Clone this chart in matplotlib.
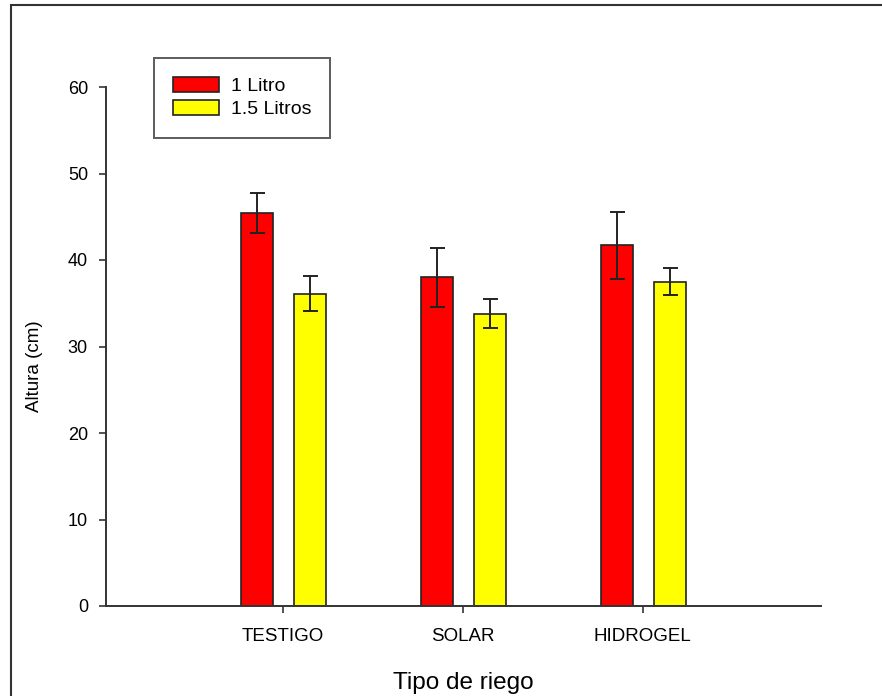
import matplotlib.pyplot as plt
from matplotlib.patches import Rectangle
import numpy as np

plt.rcParams['font.family'] = ['Liberation Sans', 'DejaVu Sans']

# altura promedio por tipo de riego
riego = ['TESTIGO', 'SOLAR', 'HIDROGEL']
litro_1 = [45.4, 38.0, 41.7]
litro_1_err = [2.3, 3.4, 3.85]
litro_15 = [36.1, 33.8, 37.5]
litro_15_err = [2.0, 1.7, 1.6]

fig = plt.figure(figsize=(8.82, 6.96), dpi=100)
ax = fig.add_axes([106/882, 1 - 606/696, 715/882, 519/696])

# marco exterior
fig.patches.append(Rectangle((11/882, -0.1), 1.2, 1.1 - 5/696, transform=fig.transFigure,
                             fill=False, edgecolor='#333333', linewidth=1.5))

x = np.arange(1, len(riego) + 1)
w = 0.18
err_kw = dict(ecolor='#222222', elinewidth=1.4, capsize=5.4, capthick=1.4)
ax.bar(x - 0.145, litro_1, w, yerr=litro_1_err, color='#ff0000', edgecolor='#222222',
       linewidth=1.2, label='1 Litro', error_kw=err_kw)
ax.bar(x + 0.15, litro_15, w, yerr=litro_15_err, color='#ffff00', edgecolor='#222222',
       linewidth=1.2, label='1.5 Litros', error_kw=err_kw)

ax.set_xlim(0.017, 3.99)
ax.set_ylim(0, 60)
ax.set_yticks(range(0, 61, 10))
ax.set_xticks(x)
ax.set_xticklabels(riego)
ax.spines['top'].set_visible(False)
ax.spines['right'].set_visible(False)
for s in ['left', 'bottom']:
    ax.spines[s].set_linewidth(1.4)
    ax.spines[s].set_color('#333333')
ax.tick_params(axis='y', length=5, width=1.2, labelsize=13, pad=8, color='#333333')
ax.tick_params(axis='x', length=5, width=1.2, labelsize=13.5, pad=11, color='#333333')
ax.set_ylabel('Altura (cm)', fontsize=13.5)
ax.yaxis.set_label_coords(-0.088, 0.462)
ax.set_xlabel('Tipo de riego', fontsize=17.5, labelpad=19)

leg = ax.legend(loc='upper left', bbox_to_anchor=(0.067, 1.056), borderaxespad=0,
                fontsize=14, frameon=True, fancybox=False, edgecolor='#333333',
                handlelength=2.37, handleheight=0.77, labelspacing=0.26,
                borderpad=1.0, handletextpad=0.57)
leg.get_frame().set_linewidth(1.4)

fig.savefig('out.png', dpi=100)
